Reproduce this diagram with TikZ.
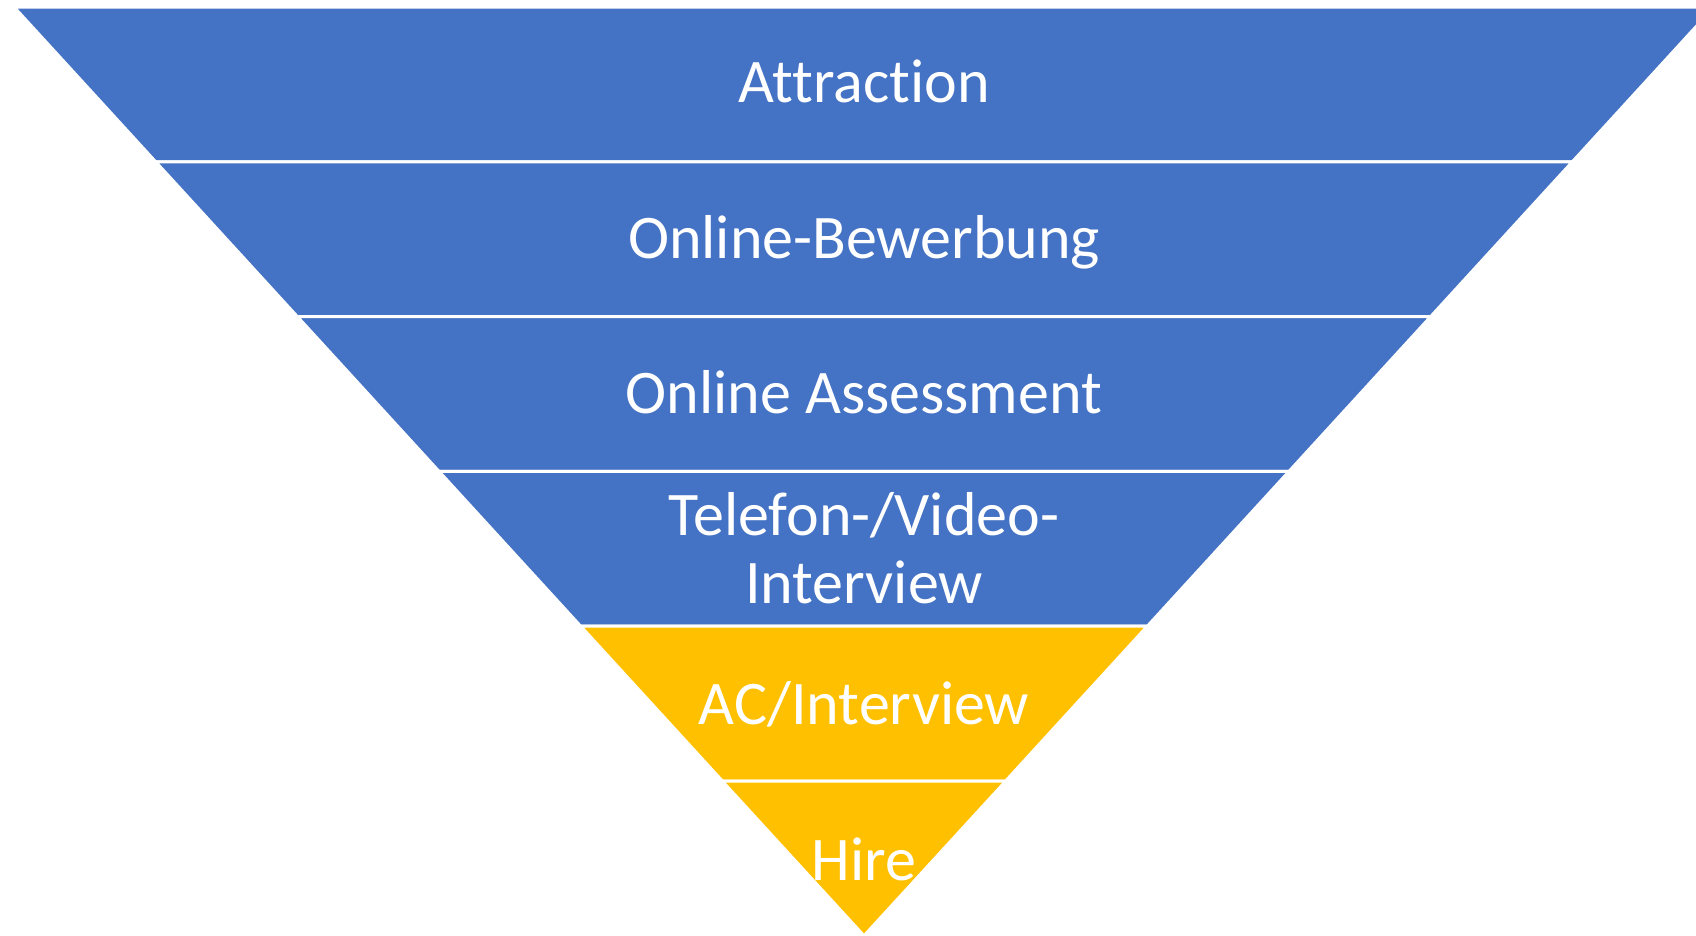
\documentclass[tikz,border=0pt]{standalone}
\usepackage{fontspec}
\setmainfont{Carlito}[Ligatures=NoCommon]
\definecolor{funnelblue}{HTML}{4472C4}
\definecolor{funnelgold}{HTML}{FFC000}
\begin{document}
\begin{tikzpicture}[x=1pt,y=-1pt,
  band/.style={draw=white,line width=3pt,line join=miter},
  lbl/.style={text=white,inner sep=0pt,anchor=base,align=center,
    font=\fontsize{62}{68}\selectfont}]
\useasboundingbox (0,0) rectangle (1696,935);
\clip (0,0) rectangle (1696,935);
% funnel: top (14,7)-(1714,7), apex (864,936)
\def\yA{7}\def\yB{161.8}\def\yC{316.6}\def\yD{471.4}\def\yE{626.2}\def\yF{781}\def\yG{935.8}
\pgfmathsetmacro{\k}{850/928.8}
\foreach \ya/\yb/\c in {\yA/\yB/funnelblue,\yB/\yC/funnelblue,\yC/\yD/funnelblue,\yD/\yE/funnelblue,\yE/\yF/funnelgold}{
  \pgfmathsetmacro{\xa}{14+(\ya-7)*\k}
  \pgfmathsetmacro{\xb}{14+(\yb-7)*\k}
  \pgfmathsetmacro{\xc}{1714-(\yb-7)*\k}
  \pgfmathsetmacro{\xd}{1714-(\ya-7)*\k}
  \path[band,fill=\c] (\xa,\ya) -- (\xb,\yb) -- (\xc,\yb) -- (\xd,\ya) -- cycle;
}
\path[band,fill=funnelgold] (14+773.8*\k,\yF) -- (864,\yG) -- (1714-773.8*\k,\yF) -- cycle;
\node[lbl] (attr) at (864,102) {Attraction};
\node[lbl] (bew) at (864,258) {Online-Bewerbung};
\node[lbl] (ass) at (864,413) {Online Assessment};
\node[lbl] (tel) at (864,603) {Telefon-/Video-\\Interview};
\node[lbl] (ac) at (864,724) {AC/Interview};
\node[lbl] (hire) at (864,880) {Hire};
\end{tikzpicture}
\end{document}
